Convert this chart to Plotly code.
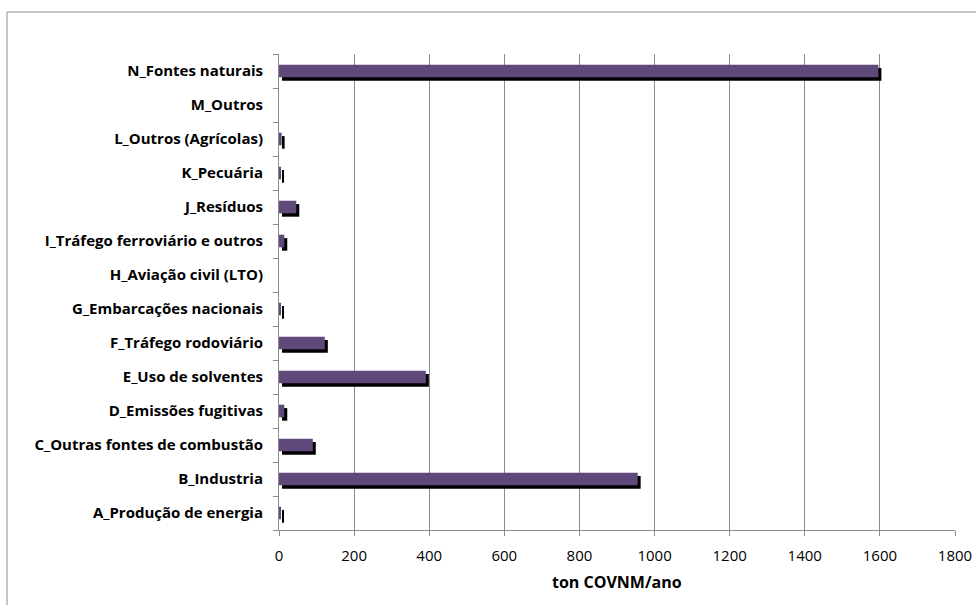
import plotly.graph_objects as go

# Emission sources (bottom to top) and annual NMVOC emissions
categories = [
    "A_Produção de energia",
    "B_Industria",
    "C_Outras fontes de combustão",
    "D_Emissões fugitivas",
    "E_Uso de solventes",
    "F_Tráfego rodoviário",
    "G_Embarcações nacionais",
    "H_Aviação civil (LTO)",
    "I_Tráfego ferroviário e outros",
    "J_Resíduos",
    "K_Pecuária",
    "L_Outros (Agrícolas)",
    "M_Outros",
    "N_Fontes naturais",
]
values = [5, 955, 90, 14, 391, 122, 4, 0, 14, 46, 4, 7, 0, 1596]

x_ticks = list(range(0, 1801, 200))
x_title = "ton COVNM/ano"

BAR_COLOR = "#5F497A"
BAR_W = 0.37
SHADOW_DX = 8      # data units to the right
SHADOW_DY = 0.1    # category units downward
FONT = "Open Sans, Noto Sans, sans-serif"

fig = go.Figure()

# drop shadow behind each bar
fig.add_trace(go.Bar(
    y=categories, x=values, base=SHADOW_DX, orientation="h",
    width=BAR_W, offset=-BAR_W / 2 - SHADOW_DY,
    marker=dict(color="#000000", line=dict(width=0)),
    hoverinfo="skip", showlegend=False,
))
fig.add_trace(go.Bar(
    y=categories, x=values, orientation="h",
    width=BAR_W, offset=-BAR_W / 2,
    marker=dict(color=BAR_COLOR, line=dict(width=0)),
    showlegend=False,
))

fig.update_layout(
    width=976, height=605,
    margin=dict(l=279, r=21, t=54, b=75),
    paper_bgcolor="white", plot_bgcolor="white",
    barmode="overlay",
    font=dict(family=FONT, color="#000000"),
    xaxis=dict(
        range=[0, 1800], tickvals=x_ticks, ticktext=[str(v) for v in x_ticks],
        showgrid=True, gridcolor="#8C8C8C", gridwidth=1,
        showline=True, linecolor="#8C8C8C", linewidth=1,
        ticks="outside", ticklen=5, tickcolor="#8C8C8C",
        tickfont=dict(size=15), zeroline=False, automargin=False,
        ticklabelstandoff=7,
    ),
    yaxis=dict(
        type="category", categoryorder="array", categoryarray=categories,
        range=[-0.5, len(categories) - 0.5],
        showline=True, linecolor="#8C8C8C", linewidth=1,
        ticks="outside", ticklen=5, tickcolor="#8C8C8C",
        tickson="boundaries", showgrid=False, automargin=False,
        tickfont=dict(size=15),
        ticklabelstandoff=12,
        tickvals=categories,
        ticktext=["<b>" + c + "</b>" for c in categories],
    ),
    annotations=[dict(
        text="<b>" + x_title + "</b>", xref="paper", yref="paper",
        x=0.5, y=0, yshift=-52, showarrow=False,
        xanchor="center", yanchor="middle", font=dict(size=16),
    )],
    shapes=[dict(
        type="rect", xref="paper", yref="paper",
        xsizemode="pixel", ysizemode="pixel", xanchor=0, yanchor=1,
        x0=7 - 279, x1=900, y0=-700, y1=54 - 12,
        line=dict(color="#8C8C8C", width=1), fillcolor="rgba(0,0,0,0)",
        layer="below",
    )],
)

fig.write_html("out.html")
